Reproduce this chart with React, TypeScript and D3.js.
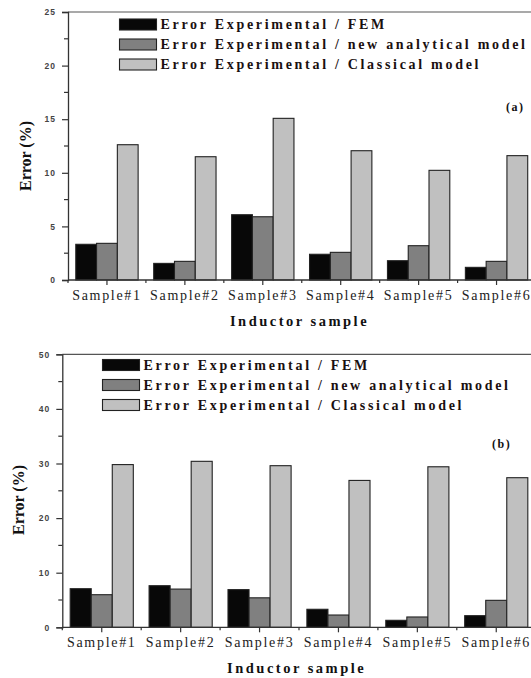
import * as d3 from 'd3';
import React, { useRef, useEffect } from 'react';

// categories and series
const samples = ['Sample#1', 'Sample#2', 'Sample#3', 'Sample#4', 'Sample#5', 'Sample#6'];
const seriesNames = [
  'Error Experimental / FEM',
  'Error Experimental / new analytical model',
  'Error Experimental / Classical model',
];

// panel (a)
const femA = [3.33, 1.55, 6.09, 2.4, 1.8, 1.18];
const newModelA = [3.42, 1.74, 5.9, 2.58, 3.2, 1.74];
const classicalA = [12.62, 11.5, 15.08, 12.06, 10.23, 11.6];
const ticksA = [0, 5, 10, 15, 20, 25];

// panel (b)
const femB = [7.07, 7.62, 6.9, 3.3, 1.28, 2.13];
const newModelB = [5.97, 7.0, 5.4, 2.25, 1.89, 4.94];
const classicalB = [29.8, 30.4, 29.6, 26.9, 29.4, 27.4];
const ticksB = [0, 10, 20, 30, 40, 50];

const colors = ['#080808', '#808080', '#c0c0c0'];

function drawPanel(svg, cfg) {
  const { series, ticks, left, right, bottom, top, legX, legY, tag, tagX, tagY, yLabX, yLabY } = cfg;
  const g = svg.append('g');

  const x = d3.scaleBand().domain(samples).range([left, right]);
  // group takes 80% of each category
  const barW = (x.bandwidth() * 0.8) / 3;
  const y = d3.scaleLinear().domain([0, ticks[ticks.length - 1]]).range([bottom, top]);

  // bars
  series.forEach((vals, si) => {
    g.selectAll(null)
      .data(vals)
      .enter()
      .append('rect')
      .attr('x', (d, i) => x(samples[i]) + x.bandwidth() * 0.1 + si * barW)
      .attr('y', (d) => y(d))
      .attr('width', barW)
      .attr('height', (d) => y(0) - y(d))
      .attr('fill', colors[si])
      .attr('stroke', '#222')
      .attr('stroke-width', 1.1);
  });

  // frame top
  g.append('line')
    .attr('x1', left).attr('x2', 531)
    .attr('y1', top).attr('y2', top)
    .attr('stroke', '#555').attr('stroke-width', 1.2);

  // y axis
  const yAxis = d3.axisLeft(y).tickValues(ticks).tickSize(6).tickPadding(6).tickFormat(d3.format('d'));
  const ya = g.append('g').attr('transform', `translate(${left},0)`).call(yAxis);
  ya.select('.domain').attr('stroke', '#333').attr('stroke-width', 1.3);
  ya.selectAll('.tick line').attr('stroke', '#333').attr('stroke-width', 1.2);
  ya.selectAll('.tick text')
    .attr('font-family', 'Liberation Sans, Arial, sans-serif')
    .attr('font-weight', 'bold')
    .attr('font-size', 8.5)
    .attr('letter-spacing', 1)
    .attr('fill', '#444');
  // minor y ticks
  const step = ticks[1] - ticks[0];
  const minor = ticks.slice(0, -1).map((t) => t + step / 2);
  g.selectAll(null)
    .data(minor)
    .enter()
    .append('line')
    .attr('x1', left - 4).attr('x2', left)
    .attr('y1', (d) => y(d)).attr('y2', (d) => y(d))
    .attr('stroke', '#333').attr('stroke-width', 1.2);

  // x axis
  g.append('line')
    .attr('x1', left).attr('x2', 531)
    .attr('y1', bottom).attr('y2', bottom)
    .attr('stroke', '#333').attr('stroke-width', 1.3);
  g.selectAll(null)
    .data(samples)
    .enter()
    .append('line')
    .attr('x1', (d) => x(d) + x.bandwidth() / 2).attr('x2', (d) => x(d) + x.bandwidth() / 2)
    .attr('y1', bottom).attr('y2', bottom + 5)
    .attr('stroke', '#333').attr('stroke-width', 1.2);
  g.selectAll(null)
    .data(samples)
    .enter()
    .append('line')
    .attr('x1', (d) => x(d)).attr('x2', (d) => x(d))
    .attr('y1', bottom).attr('y2', bottom + 3)
    .attr('stroke', '#333').attr('stroke-width', 1.2);
  g.selectAll(null)
    .data(samples)
    .enter()
    .append('text')
    .attr('x', (d) => x(d) + x.bandwidth() / 2)
    .attr('y', bottom + 19.5)
    .attr('text-anchor', 'middle')
    .attr('font-family', 'Liberation Serif, Times New Roman, serif')
    .attr('font-size', 14)
    .attr('letter-spacing', 1.7)
    .attr('fill', '#222')
    .text((d) => d);

  // axis titles
  g.append('text')
    .attr('x', (left + 535) / 2 - 2)
    .attr('y', bottom + 45.5)
    .attr('text-anchor', 'middle')
    .attr('font-family', 'Liberation Serif, Times New Roman, serif')
    .attr('font-weight', 'bold')
    .attr('font-size', 14.5)
    .attr('letter-spacing', 2.5)
    .attr('fill', '#111')
    .text('Inductor sample');
  g.append('text')
    .attr('transform', `translate(${yLabX},${yLabY}) rotate(-90)`)
    .attr('text-anchor', 'middle')
    .attr('font-family', 'Liberation Serif, Times New Roman, serif')
    .attr('font-weight', 'bold')
    .attr('font-size', 16)
    .attr('fill', '#111')
    .text('Error (%)');

  // legend
  seriesNames.forEach((name, i) => {
    const ly = legY + i * 20;
    g.append('rect')
      .attr('x', legX).attr('y', ly)
      .attr('width', 37).attr('height', 11)
      .attr('fill', colors[i])
      .attr('stroke', '#222').attr('stroke-width', 1.1);
    g.append('text')
      .attr('x', legX + 41)
      .attr('y', ly + 10)
      .attr('font-family', 'Liberation Serif, Times New Roman, serif')
      .attr('font-weight', 'bold')
      .attr('font-size', 14)
      .attr('letter-spacing', 2.7)
      .attr('fill', '#1a1010')
      .text(name);
  });

  g.append('text')
    .attr('x', tagX).attr('y', tagY)
    .attr('font-family', 'Liberation Serif, Times New Roman, serif')
    .attr('font-weight', 'bold')
    .attr('font-size', 12)
    .attr('letter-spacing', 1.5)
    .attr('fill', '#111')
    .text(tag);
}

export default function App() {
  const svgRef = useRef(null);
  useEffect(() => {
    const svg = d3.select(svgRef.current);
    svg.selectAll('*').remove();
    drawPanel(svg, {
      series: [femA, newModelA, classicalA],
      ticks: ticksA,
      left: 68, right: 535.5, bottom: 280, top: 12,
      legX: 119.5, legY: 19,
      tag: '(a)', tagX: 506, tagY: 111,
      yLabX: 31, yLabY: 156,
    });
    drawPanel(svg, {
      series: [femB, newModelB, classicalB],
      ticks: ticksB,
      left: 62.3, right: 535.7, bottom: 627.3, top: 354.3,
      legX: 102.5, legY: 359.5,
      tag: '(b)', tagX: 492, tagY: 448,
      yLabX: 24, yLabY: 500,
    });
  }, []);

  return (
    <svg
      ref={svgRef}
      width={531}
      height={678}
      style={{ position: 'absolute', left: 0, top: 0, background: '#fff' }}
    ></svg>
  );
}
